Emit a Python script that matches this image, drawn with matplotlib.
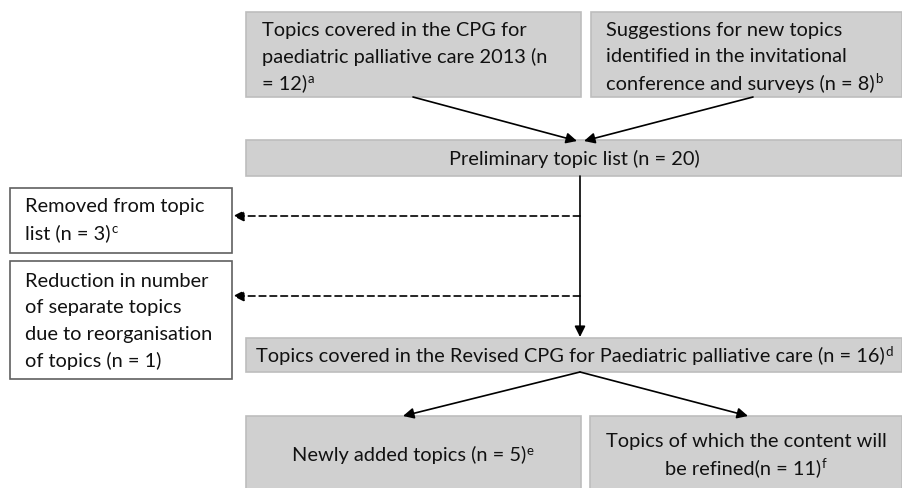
import matplotlib.pyplot as plt
from matplotlib.patches import Rectangle

plt.rcParams['font.family'] = ['Lato', 'DejaVu Sans']

# Box texts, one list entry per line; footnote marks kept apart
top_left_lines = ["Topics covered in the CPG for", "paediatric palliative care 2013 (n", "= 12)"]
top_right_lines = ["Suggestions for new topics", "identified in the invitational", "conference and surveys (n = 8)"]
prelim_lines = ["Preliminary topic list (n = 20)"]
removed_lines = ["Removed from topic", "list (n = 3)"]
reduction_lines = ["Reduction in number", "of separate topics", "due to reorganisation", "of topics (n = 1)"]
revised_lines = ["Topics covered in the Revised CPG for Paediatric palliative care (n = 16)"]
new_lines = ["Newly added topics (n = 5)"]
refined_lines = ["Topics of which the content will", "be refined(n = 11)"]
footnotes = ['a', 'b', None, 'c', None, 'd', 'e', 'f']

GRAY = '#d0d0d0'
EDGE = '#bdbdbd'
FS = 14.4
LINE = 26.5  # px between lines

fig = plt.figure(figsize=(9.03, 4.89), dpi=100)
ax = fig.add_axes([0, 0, 1, 1])
ax.set_xlim(0, 903)
ax.set_ylim(489, 0)
ax.axis('off')


def box(x0, y0, x1, y1, fill=GRAY, edge=EDGE):
    ax.add_patch(Rectangle((x0, y0), x1 - x0, y1 - y0, facecolor=fill,
                           edgecolor=edge, linewidth=1.2))


def arrow(x0, y0, x1, y1, dashed=False):
    ax.annotate('', xy=(x1, y1), xytext=(x0, y0),
                arrowprops=dict(arrowstyle='-|>', color='black', lw=1.2,
                                mutation_scale=16,
                                linestyle=(0, (4, 2.5)) if dashed else '-',
                                shrinkA=0, shrinkB=0))


def label(x, yc, lines, sup=None, ha='left', shift=0):
    y0 = yc - LINE * (len(lines) - 1) / 2
    t = None
    for i, s in enumerate(lines):
        t = ax.text(x - shift if ha == 'center' and i == len(lines) - 1 and sup else x,
                    y0 + i * LINE, s, fontsize=FS, va='center', ha=ha,
                    color='#111111')
    if sup:
        ax.annotate(sup, xy=(1, 1.0), xycoords=t, fontsize=FS * 0.66,
                    va='top', ha='left', xytext=(0.5, 1),
                    textcoords='offset points', color='#111111')


# boxes
box(246, 13, 581, 98)
box(591, 13, 902, 98)
box(246, 141, 902, 177)
box(10, 189, 232, 254, fill='white', edge='#606060')
box(10, 262, 232, 380, fill='white', edge='#606060')
box(246, 339, 902, 373)
box(246, 417, 581, 492)
box(590, 417, 902, 492)

# texts
label(262, 57, top_left_lines, footnotes[0])
label(606, 57, top_right_lines, footnotes[1])
label(574, 159, prelim_lines, footnotes[2], ha='center')
label(25, 220, removed_lines, footnotes[3])
label(25, 321, reduction_lines, footnotes[4])
label(574, 356, revised_lines, footnotes[5], ha='center', shift=4)
label(413, 455, new_lines, footnotes[6], ha='center', shift=4)
label(746, 455, refined_lines, footnotes[7], ha='center', shift=3)

# arrows
arrow(413, 98, 577, 142)
arrow(753, 98, 584, 142)
arrow(580, 177, 580, 338)
arrow(580, 217, 233, 217, dashed=True)
arrow(580, 297, 233, 297, dashed=True)
arrow(580, 373, 403, 417)
arrow(580, 373, 748, 417)

fig.savefig('out.png', dpi=100)
